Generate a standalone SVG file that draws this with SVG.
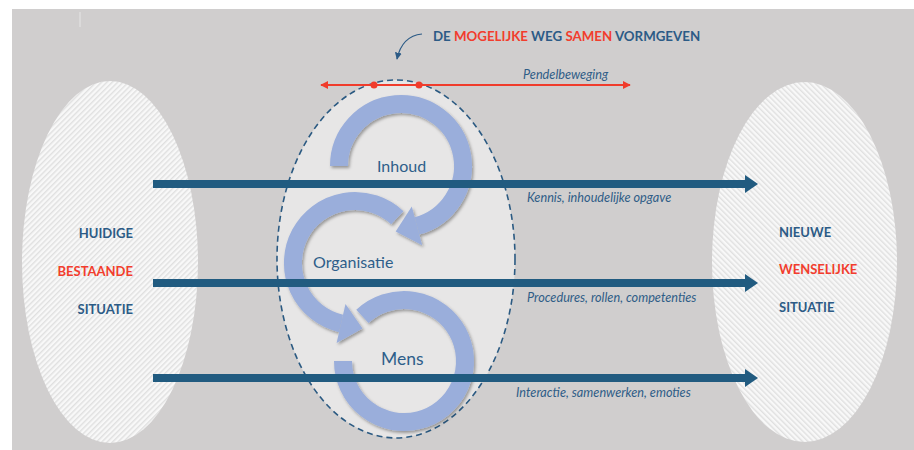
<svg xmlns="http://www.w3.org/2000/svg" width="914" height="450" viewBox="0 0 914 450">
  <style>
    .lbl { font-family: Lato, "Open Sans", "Liberation Sans", sans-serif; }
    .state { font-size: 13px; font-weight: bold; fill: #2c5b86; }
    .red { fill: #f23d2d; }
    .mid { font-size: 16px; fill: #2e5e8a; }
    .note { font-size: 12.7px; font-style: italic; fill: #2f5d87; }
    .bar { fill: #215b80; }
    .ring { fill: none; stroke: #9aaedb; stroke-width: 18; stroke-linecap: butt; }
    .head { fill: #9aaedb; }
  </style>
  <defs>
    <pattern id="hatchL" patternUnits="userSpaceOnUse" width="3.8" height="3.8" patternTransform="rotate(45)">
      <rect width="3.8" height="3.8" fill="#f8f8f8"/>
      <rect width="1.4" height="3.8" fill="#e0e0e0"/>
    </pattern>
    <pattern id="hatchR" patternUnits="userSpaceOnUse" width="3.8" height="3.8" patternTransform="rotate(-45)">
      <rect width="3.8" height="3.8" fill="#f8f8f8"/>
      <rect width="1.4" height="3.8" fill="#e0e0e0"/>
    </pattern>
    <filter id="shadow" x="-20%" y="-20%" width="140%" height="140%">
      <feDropShadow dx="1.5" dy="2" stdDeviation="1.8" flood-color="#000" flood-opacity="0.35"/>
    </filter>
    <marker id="redHead" viewBox="0 0 10 10" refX="9" refY="5" markerWidth="8" markerHeight="8" markerUnits="userSpaceOnUse" orient="auto-start-reverse">
      <path d="M0,0 L10,5 L0,10 Z" fill="#f03c2c"/>
    </marker>
    <marker id="blueHead" viewBox="0 0 10 10" refX="9" refY="5" markerWidth="7" markerHeight="7" markerUnits="userSpaceOnUse" orient="auto">
      <path d="M0,0 L10,5 L0,10 Z" fill="#2c5b86"/>
    </marker>
  </defs>

  <rect x="12" y="9" width="902" height="441" fill="#d0cece"/>
  <line x1="80" y1="12" x2="80" y2="27" stroke="#e6e6e6" stroke-width="1"/>

  <g id="huidige">
    <ellipse cx="110" cy="262" rx="88" ry="181" fill="url(#hatchL)"/>
    <text class="lbl state" x="133" y="238" text-anchor="end">HUIDIGE</text>
    <text class="lbl state red" x="133" y="276" text-anchor="end">BESTAANDE</text>
    <text class="lbl state" x="133" y="314" text-anchor="end">SITUATIE</text>
  </g>

  <g id="nieuwe">
    <ellipse cx="804.5" cy="262" rx="92.5" ry="180" fill="url(#hatchR)"/>
    <text class="lbl state" x="779" y="237">NIEUWE</text>
    <text class="lbl state red" x="779" y="274">WENSELIJKE</text>
    <text class="lbl state" x="779" y="312">SITUATIE</text>
  </g>

  <g id="weg">
    <ellipse cx="396" cy="259" rx="119" ry="179" fill="#e7e6e6" stroke="#2b5a82" stroke-width="1.6" stroke-dasharray="6 4"/>
  </g>

  <g id="inhoud" filter="url(#shadow)">
    <path class="ring" d="M339,166 A62,62 0 1 1 417,225.9"/>
    <polygon class="head" points="422.2,245.2 411.8,206.6 395.7,231.6"/>
  </g>
  <g id="organisatie" filter="url(#shadow)">
    <path class="ring" d="M397.3,217.7 A62,62 0 1 0 341.05,323.4"/>
    <polygon class="head" points="336.6,342.9 345.5,303.9 362.5,328.4"/>
  </g>
  <g id="mens" filter="url(#shadow)">
    <path class="ring" d="M362.4,316.4 A61,61 0 1 1 343,361"/>
  </g>

  <g id="ring-labels">
    <text class="lbl mid" x="377" y="172">Inhoud</text>
    <text class="lbl mid" x="313" y="268">Organisatie</text>
    <text class="lbl mid" x="381" y="365" style="font-size:17.5px">Mens</text>
  </g>

  <g id="connectors">
    <rect class="bar" x="153" y="180" width="593" height="8"/>
    <polygon class="bar" points="745,175 758,184 745,193"/>
    <rect class="bar" x="153" y="279" width="593" height="8"/>
    <polygon class="bar" points="745,274 758,283 745,292"/>
    <rect class="bar" x="153" y="374" width="593" height="8"/>
    <polygon class="bar" points="745,369 758,378 745,387"/>
  </g>

  <g id="bar-labels">
    <text class="lbl note" x="527" y="202">Kennis, inhoudelijke opgave</text>
    <text class="lbl note" x="527" y="302">Procedures, rollen, competenties</text>
    <text class="lbl note" x="516" y="397">Interactie, samenwerken, emoties</text>
  </g>

  <g id="pendel">
    <line x1="321" y1="85" x2="630" y2="85" stroke="#f03c2c" stroke-width="1.8" marker-start="url(#redHead)" marker-end="url(#redHead)"/>
    <circle cx="374" cy="85" r="3.5" fill="#f03c2c"/>
    <circle cx="419" cy="85" r="3.5" fill="#f03c2c"/>
    <text class="lbl note" x="523" y="79">Pendelbeweging</text>
  </g>

  <g id="titel">
    <path d="M422,34 Q402,36 397,59" fill="none" stroke="#2c5b86" stroke-width="1.2" marker-end="url(#blueHead)"/>
    <text class="lbl" x="433" y="41" style="font-size:13.3px;font-weight:bold;fill:#2c5b86">DE <tspan class="red">MOGELIJKE</tspan> WEG <tspan class="red">SAMEN</tspan> VORMGEVEN</text>
  </g>
</svg>
